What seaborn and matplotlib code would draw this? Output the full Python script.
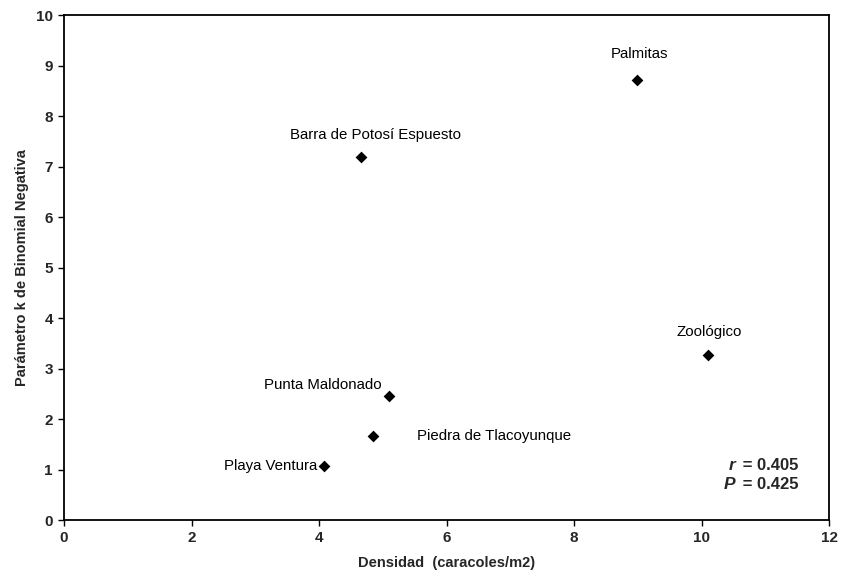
import matplotlib
matplotlib.use("Agg")
import matplotlib.pyplot as plt
import seaborn as sns
import pandas as pd

sites = ["Palmitas", "Barra de Potosí Espuesto", "Zoológico", "Punta Maldonado",
         "Piedra de Tlacoyunque", "Playa Ventura"]
densidad = [8.98, 4.65, 10.1, 5.1, 4.85, 4.07]
k_param = [8.72, 7.18, 3.27, 2.45, 1.66, 1.07]
x_ticks = [0, 2, 4, 6, 8, 10, 12]
y_ticks = [0, 1, 2, 3, 4, 5, 6, 7, 8, 9, 10]

df = pd.DataFrame({"site": sites, "x": densidad, "y": k_param})

sns.set_theme(style="white")
plt.rcParams["font.family"] = ["Liberation Sans", "DejaVu Sans"]

fig = plt.figure(figsize=(8.42, 5.78), dpi=100)
ax = fig.add_axes([0.076, 0.100, 0.909, 0.874])

sns.scatterplot(data=df, x="x", y="y", marker="D", s=36, color="black",
                edgecolor="black", linewidth=0, ax=ax, legend=False, zorder=3)

# label offsets (pixels) and alignment
offsets = {
    "Palmitas": (3, 26, "center"),
    "Barra de Potosí Espuesto": (15, 22, "center"),
    "Zoológico": (1, 23, "center"),
    "Punta Maldonado": (-8, 11, "right"),
    "Piedra de Tlacoyunque": (44, 0, "left"),
    "Playa Ventura": (-6, 0, "right"),
}
for s, xv, yv in zip(sites, densidad, k_param):
    dx, dy, ha = offsets[s]
    ax.annotate(s, (xv, yv), xytext=(dx, dy), textcoords="offset pixels",
                ha=ha, va="center", fontsize=10.8, color="black")

ax.set_xlim(0, 12)
ax.set_ylim(0, 10)
ax.set_xticks(x_ticks)
ax.set_yticks(y_ticks)
ax.set_xticklabels([str(t) for t in x_ticks], fontweight="bold", fontsize=11)
ax.set_yticklabels([str(t) for t in y_ticks], fontweight="bold", fontsize=11)
ax.tick_params(axis="both", direction="out", length=4, width=1, color="black",
               bottom=True, left=True, pad=4)

for sp in ax.spines.values():
    sp.set_visible(True)
    sp.set_color("black")
    sp.set_linewidth(1.3)

ax.set_xlabel("Densidad  (caracoles/m2)", fontweight="bold", fontsize=10.5, labelpad=8)
ax.set_ylabel("Parámetro k de Binomial Negativa", fontweight="bold", fontsize=10.5, labelpad=5)

ax.text(10.52, 1.09, "r", style="italic", fontweight="bold", fontsize=12.5,
        ha="right", va="center")
ax.text(10.56, 1.09, " = 0.405", fontweight="bold", fontsize=12, ha="left", va="center")
ax.text(10.52, 0.71, "P", style="italic", fontweight="bold", fontsize=12.5,
        ha="right", va="center")
ax.text(10.56, 0.71, " = 0.425", fontweight="bold", fontsize=12, ha="left", va="center")

fig.savefig("out.png", dpi=100)
